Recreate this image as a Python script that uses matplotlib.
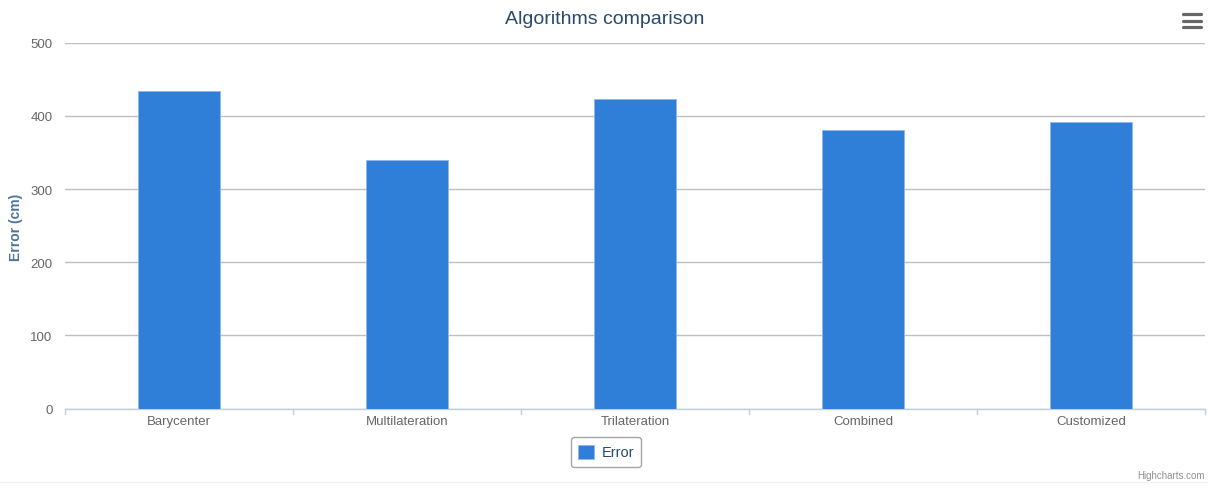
import matplotlib.pyplot as plt
from matplotlib.lines import Line2D

plt.rcParams['font.family'] = ['Liberation Sans', 'DejaVu Sans']

# dati del grafico
algorithms = ["Barycenter", "Multilateration", "Trilateration", "Combined", "Customized"]
errors = [434, 340, 423, 381, 391]
y_ticks = [0, 100, 200, 300, 400, 500]

W, H = 1208, 489
fig = plt.figure(figsize=(W / 100, H / 100), dpi=100)
ax = fig.add_axes([65 / W, 1 - 409.5 / H, 1140 / W, 365.8 / H])

bar_color = "#2f7ed8"
x = list(range(len(algorithms)))
bars = ax.bar(x, errors, width=0.36, color=bar_color, edgecolor="#8fb8ec",
              linewidth=0.6, zorder=3, label="Error")

ax.set_xlim(-0.5, len(algorithms) - 0.5)
ax.set_ylim(0, 500)
ax.set_yticks(y_ticks)
ax.set_yticklabels([str(v) for v in y_ticks], color="#666666", fontsize=9.5)
ax.set_xticks(x)
ax.set_xticklabels(algorithms, color="#666666", fontsize=9.5)
ax.tick_params(axis="y", length=0, pad=9)
ax.tick_params(axis="x", length=0, pad=5)

# griglia orizzontale
ax.grid(axis="y", color="#c0c0c0", linewidth=1, zorder=0)
for s in ["top", "right", "left"]:
    ax.spines[s].set_visible(False)
ax.spines["bottom"].set_color("#c0d0e0")
ax.spines["bottom"].set_linewidth(1)

# tacche tra le categorie
for b in [i - 0.5 for i in range(len(algorithms) + 1)]:
    ax.plot([b, b], [0, -7], color="#c0d0e0", linewidth=1, clip_on=False)

fig.text(16 / W, 1 - 227 / H, "Error (cm)", rotation=90, ha="center", va="center",
         color="#4d759e", fontsize=10, fontweight="bold")

fig.text(605 / W, 1 - 19 / H, "Algorithms comparison", ha="center", va="center",
         fontsize=14, color="#274b6d")

leg = ax.legend(handles=[bars], loc="center", bbox_to_anchor=(606 / W, 1 - 453 / H),
                bbox_transform=fig.transFigure, frameon=True, fancybox=True,
                edgecolor="#909090", fontsize=10.5, handlelength=1.1, handleheight=1.1,
                handletextpad=0.5, borderpad=0.5)
leg.get_frame().set_linewidth(1)
for t in leg.get_texts():
    t.set_color("#274b6d")

fig.text(1205 / W, 1 - 476 / H, "Highcharts.com", ha="right", va="center",
         fontsize=7, color="#909090")

# icona menu in alto a destra
for yy in [15.3, 21.7, 28]:
    fig.add_artist(Line2D([1183 / W, 1201 / W], [1 - yy / H, 1 - yy / H],
                          color="#666666", linewidth=2.3, solid_capstyle="round"))

# linea sottile in fondo
fig.add_artist(Line2D([0, 1], [1 - 483 / H, 1 - 483 / H], color="#f2f2f2", linewidth=1))

fig.savefig("out.png", dpi=100)
